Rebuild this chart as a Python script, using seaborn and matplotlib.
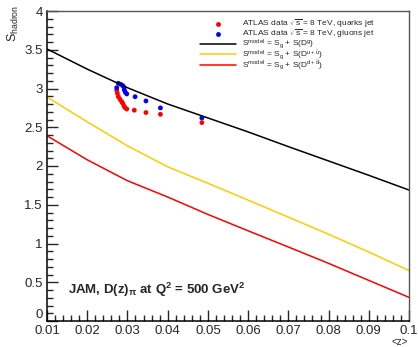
import matplotlib
matplotlib.use("Agg")
import matplotlib.pyplot as plt
import seaborn as sns
import pandas as pd
from matplotlib.ticker import MultipleLocator
from matplotlib.lines import Line2D

# ---- data ----
z_curve = [0.01, 0.02, 0.03, 0.04, 0.05, 0.06, 0.07, 0.08, 0.09, 0.10]
s_gluon = [3.51, 3.25, 3.01, 2.80, 2.62, 2.44, 2.25, 2.065, 1.88, 1.69]
s_uubar = [2.89, 2.57, 2.26, 1.99, 1.777, 1.56, 1.34, 1.12, 0.89, 0.65]
s_ddbar = [2.39, 2.08, 1.81, 1.60, 1.375, 1.164, 0.955, 0.744, 0.524, 0.305]

z_quark = [0.02733, 0.0275, 0.02774, 0.02815, 0.02857, 0.02882, 0.02915, 0.0294, 0.02982, 0.0317, 0.0346, 0.0382, 0.0485]
s_quark = [2.98, 2.938, 2.895, 2.86, 2.83, 2.81, 2.774, 2.752, 2.735, 2.72, 2.69, 2.667, 2.56]
z_glu = [0.02733, 0.02774, 0.02833, 0.02883, 0.02915, 0.02923, 0.0295, 0.02983, 0.0319, 0.0346, 0.0382, 0.0485]
s_glu = [3.01, 3.067, 3.054, 3.037, 3.015, 2.98, 2.95, 2.93, 2.894, 2.839, 2.75, 2.62]

x_ticks = [0.01, 0.02, 0.03, 0.04, 0.05, 0.06, 0.07, 0.08, 0.09, 0.1]
x_ticklabels = ["0.01", "0.02", "0.03", "0.04", "0.05", "0.06", "0.07", "0.08", "0.09", "0.1"]
y_ticks = [0, 0.5, 1, 1.5, 2, 2.5, 3, 3.5, 4]
y_ticklabels = ["0", "0.5", "1", "1.5", "2", "2.5", "3", "3.5", "4"]

labels = [r"ATLAS data $\sqrt{s}$ = 8 TeV, quarks jet",
          r"ATLAS data $\sqrt{s}$ = 8 TeV, gluons jet",
          r"S$^{\rm model}$ = S$_{\rm g}$ + S(D$^{\rm g}$)",
          r"S$^{\rm model}$ = S$_{\rm g}$ + S(D$^{\rm u+\bar{u}}$)",
          r"S$^{\rm model}$ = S$_{\rm g}$ + S(D$^{\rm d+\bar{d}}$)"]

sns.set_style("ticks")
plt.rcParams['font.family'] = ['Liberation Sans', 'DejaVu Sans']
plt.rcParams['mathtext.fontset'] = 'custom'
plt.rcParams['mathtext.rm'] = 'Liberation Sans'
plt.rcParams['mathtext.it'] = 'Liberation Sans:italic'
plt.rcParams['mathtext.bf'] = 'Liberation Sans:bold'
plt.rcParams['mathtext.default'] = 'regular'

fig = plt.figure(figsize=(4.18, 3.47), dpi=100)
ax = fig.add_axes([47/418, 1-321/347, 362/418, 310/347])

curves = pd.DataFrame({"z": z_curve, "g": s_gluon, "u": s_uubar, "d": s_ddbar})
sns.lineplot(data=curves, x="z", y="g", ax=ax, color="black", lw=1.1)
sns.lineplot(data=curves, x="z", y="u", ax=ax, color="#ffcc00", lw=1.1)
sns.lineplot(data=curves, x="z", y="d", ax=ax, color="#ff0000", lw=1.1)
sns.scatterplot(x=z_quark, y=s_quark, ax=ax, color="#ff0000", s=12, edgecolor="none")
sns.scatterplot(x=z_glu, y=s_glu, ax=ax, color="#0000ff", s=12, edgecolor="none")

ax.set_xlim(0.01, 0.1)
ax.set_ylim(0, 4)
ax.set_xticks(x_ticks)
ax.set_xticklabels(x_ticklabels)
ax.set_yticks(y_ticks)
ax.set_yticklabels(y_ticklabels)
ax.get_yticklabels()[0].set_va('bottom')
ax.xaxis.set_minor_locator(MultipleLocator(0.002))
ax.yaxis.set_minor_locator(MultipleLocator(0.1))
ax.tick_params(which='major', direction='in', length=8, width=1, labelsize=9.5, top=False, right=False, pad=3)
ax.tick_params(which='minor', direction='in', length=4, width=1, top=False, right=False)
ax.set_xlabel("")
ax.set_ylabel("")
for sp in ['left', 'bottom']:
    ax.spines[sp].set_color('black')
    ax.spines[sp].set_linewidth(1.1)
for sp in ['top', 'right']:
    ax.spines[sp].set_visible(True)
    ax.spines[sp].set_color('#555555')
    ax.spines[sp].set_linewidth(1.0)

handles = [Line2D([], [], ls='none', marker='o', ms=3.5, color='#ff0000', mec='none'),
           Line2D([], [], ls='none', marker='o', ms=3.5, color='#0000ff', mec='none'),
           Line2D([], [], color='black', lw=1.1),
           Line2D([], [], color='#ffcc00', lw=1.1),
           Line2D([], [], color='#ff0000', lw=1.1)]
leg = ax.legend(handles, labels, loc='upper left', bbox_to_anchor=(200/418, 1-18/347),
                bbox_transform=fig.transFigure, frameon=False, fontsize=6.0,
                handlelength=4.3, handleheight=0.5, handletextpad=0.8,
                labelspacing=-0.3, borderpad=0, borderaxespad=0)

fig.text(68/418, 1-290/347, r"JAM, D(z)$_{\pi}$ at Q$^{\mathbf{2}}$ = 500 GeV$^{\mathbf{2}}$",
         fontsize=9.5, fontweight='bold', ha='left', va='center')
fig.text(400/418, 1-342/347, "<z>", fontsize=7, ha='center', va='center')
fig.text(13/418, 1-5/347, r"S$_{\rm hadron}$", fontsize=9, rotation=90, ha='center', va='top')

fig.savefig("out.png", dpi=100)
